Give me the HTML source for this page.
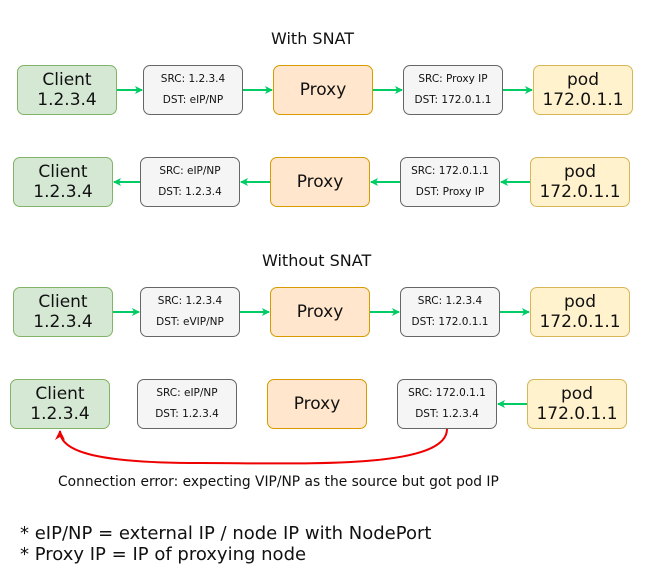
<!DOCTYPE html>
<html><head><style>
body{margin:0;width:648px;height:574px;background:#fff;font-family:"DejaVu Sans","Liberation Sans",sans-serif;position:relative;overflow:hidden}
.b{position:absolute;box-sizing:border-box;border-radius:7px;display:flex;flex-direction:column;align-items:center;justify-content:center;text-align:center;color:#111;width:100px;height:50px}
.c{background:#d5e8d4;border:1px solid #82b366;font-size:17px;line-height:20px}
.p{background:#f5f5f5;border:1px solid #666;font-size:10.5px;line-height:21px}
.x{background:#ffe6cc;border:1px solid #d79b00;font-size:17px}
.d{background:#fff2cc;border:1px solid #d6b656;font-size:17px;line-height:20px}
.t{position:absolute;font-size:16px;color:#111;white-space:nowrap}
svg{position:absolute;left:0;top:0}
</style></head><body>
<div class="t" style="left:271px;top:29px">With SNAT</div>
<div class="t" style="left:262px;top:251px">Without SNAT</div>

<div class="b c" style="left:17px;top:65px">Client<br>1.2.3.4</div>
<div class="b p" style="left:143px;top:65px">SRC: 1.2.3.4<br>DST: eIP/NP</div>
<div class="b x" style="left:273px;top:65px">Proxy</div>
<div class="b p" style="left:403px;top:65px">SRC: Proxy IP<br>DST: 172.0.1.1</div>
<div class="b d" style="left:533px;top:65px">pod<br>172.0.1.1</div>

<div class="b c" style="left:13px;top:157px">Client<br>1.2.3.4</div>
<div class="b p" style="left:140px;top:157px">SRC: eIP/NP<br>DST: 1.2.3.4</div>
<div class="b x" style="left:270px;top:157px">Proxy</div>
<div class="b p" style="left:400px;top:157px">SRC: 172.0.1.1<br>DST: Proxy IP</div>
<div class="b d" style="left:530px;top:157px">pod<br>172.0.1.1</div>

<div class="b c" style="left:13px;top:287px">Client<br>1.2.3.4</div>
<div class="b p" style="left:140px;top:287px">SRC: 1.2.3.4<br>DST: eVIP/NP</div>
<div class="b x" style="left:270px;top:287px">Proxy</div>
<div class="b p" style="left:400px;top:287px">SRC: 1.2.3.4<br>DST: 172.0.1.1</div>
<div class="b d" style="left:530px;top:287px">pod<br>172.0.1.1</div>

<div class="b c" style="left:10px;top:379px">Client<br>1.2.3.4</div>
<div class="b p" style="left:137px;top:379px">SRC: eIP/NP<br>DST: 1.2.3.4</div>
<div class="b x" style="left:267px;top:379px">Proxy</div>
<div class="b p" style="left:397px;top:379px">SRC: 172.0.1.1<br>DST: 1.2.3.4</div>
<div class="b d" style="left:527px;top:379px">pod<br>172.0.1.1</div>

<svg width="648" height="574">
<defs>
<marker id="g" markerWidth="8" markerHeight="8" refX="7" refY="4" orient="auto" markerUnits="userSpaceOnUse"><path d="M0,0 L8,4 L0,8 L2,4z" fill="#00cc66"/></marker>
<marker id="r" markerWidth="10" markerHeight="10" refX="9" refY="5" orient="auto" markerUnits="userSpaceOnUse"><path d="M0,0 L10,5 L0,10 L3,5z" fill="#e00"/></marker>
</defs>
<g stroke="#00cc66" stroke-width="2" fill="none" marker-end="url(#g)">
<line x1="117" y1="90" x2="142" y2="90"/><line x1="243" y1="90" x2="272" y2="90"/><line x1="373" y1="90" x2="402" y2="90"/><line x1="503" y1="90" x2="532" y2="90"/>
<line x1="140" y1="182" x2="114" y2="182"/><line x1="270" y1="182" x2="241" y2="182"/><line x1="400" y1="182" x2="371" y2="182"/><line x1="530" y1="182" x2="501" y2="182"/>
<line x1="113" y1="312" x2="139" y2="312"/><line x1="240" y1="312" x2="269" y2="312"/><line x1="370" y1="312" x2="399" y2="312"/><line x1="500" y1="312" x2="529" y2="312"/>
<line x1="527" y1="404" x2="498" y2="404"/>
</g>
<path d="M447,429 C447,470 300,463 200,463 C90,463 60,450 60,431" stroke="#e00" stroke-width="2" fill="none" marker-end="url(#r)"/>
</svg>
<div class="t" style="left:58px;top:474px;font-size:13.8px">Connection error: expecting VIP/NP as the source but got pod IP</div>
<div class="t" style="left:20px;top:523px;font-size:18px">* eIP/NP = external IP / node IP with NodePort</div>
<div class="t" style="left:20px;top:544px;font-size:18px">* Proxy IP = IP of proxying node</div>
</body></html>
